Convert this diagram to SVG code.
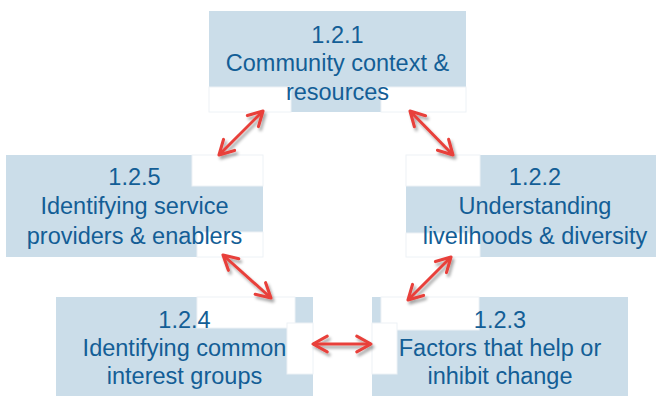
<svg xmlns="http://www.w3.org/2000/svg" width="656" height="396" viewBox="0 0 656 396">
<defs>
<style>
.box{fill:#cbdde9}
.patch{fill:#ffffff;stroke:#edf2f6;stroke-width:1}
.t{font-family:"Liberation Sans",Arial,sans-serif;font-size:23.5px;fill:#135e96;text-anchor:middle}
.c{stroke:#e8403a;stroke-width:3;fill:none;marker-start:url(#ah);marker-end:url(#ah)}
</style>
<marker id="ah" viewBox="0 0 10 10" refX="8.5" refY="5" markerWidth="6.5" markerHeight="6.5" orient="auto-start-reverse" markerUnits="strokeWidth">
<path d="M1.2,1 L8.5,5 L1.2,9" fill="none" stroke="#e8403a" stroke-width="1.6" stroke-linecap="round" stroke-linejoin="round"/>
</marker>
<filter id="sh" x="-30%" y="-30%" width="160%" height="160%">
<feDropShadow dx="2" dy="3" stdDeviation="1.5" flood-color="#000" flood-opacity="0.35"/>
</filter>
</defs>
<rect width="656" height="396" fill="#fff"/>
<g id="n121">
<rect class="box" x="209" y="11" width="257" height="101"/>
<rect class="patch" x="209" y="87" width="82" height="25"/>
<rect class="patch" x="381" y="87" width="85" height="25"/>
<text class="t" x="337.5" y="43">1.2.1</text>
<text class="t" x="337.5" y="71">Community context &amp;</text>
<text class="t" x="337.5" y="100">resources</text>
</g>
<g id="n125">
<rect class="box" x="6" y="155" width="257" height="102"/>
<rect class="patch" x="192" y="155" width="71" height="31"/>
<rect class="patch" x="197" y="232" width="66" height="25"/>
<text class="t" x="134.5" y="185">1.2.5</text>
<text class="t" x="134.5" y="214">Identifying service</text>
<text class="t" x="134.5" y="244">providers &amp; enablers</text>
</g>
<g id="n122">
<rect class="box" x="406" y="155" width="258" height="102"/>
<rect class="patch" x="406" y="155" width="74" height="31"/>
<rect class="patch" x="406" y="233" width="74" height="24"/>
<text class="t" x="535" y="185">1.2.2</text>
<text class="t" x="535" y="214">Understanding</text>
<text class="t" x="535" y="244">livelihoods &amp; diversity</text>
</g>
<g id="n124">
<rect class="box" x="56" y="297" width="257" height="99"/>
<rect class="patch" x="197" y="297" width="98" height="31"/>
<rect class="patch" x="287" y="323" width="26" height="51"/>
<text class="t" x="184.5" y="328">1.2.4</text>
<text class="t" x="184.5" y="356">Identifying common</text>
<text class="t" x="184.5" y="384">interest groups</text>
</g>
<g id="n123">
<rect class="box" x="372" y="297" width="256" height="99"/>
<rect class="patch" x="381" y="297" width="98" height="33"/>
<rect class="patch" x="372" y="323" width="25" height="51"/>
<text class="t" x="500" y="328">1.2.3</text>
<text class="t" x="500" y="356">Factors that help or</text>
<text class="t" x="500" y="384">inhibit change</text>
</g>
<g id="connectors" filter="url(#sh)">
<line class="c" x1="263" y1="111" x2="219" y2="155"/>
<line class="c" x1="410" y1="111" x2="453" y2="155"/>
<line class="c" x1="223" y1="255" x2="271" y2="298"/>
<line class="c" x1="451" y1="257" x2="408" y2="300"/>
<line class="c" x1="313" y1="344" x2="371" y2="344"/>
</g>
</svg>
